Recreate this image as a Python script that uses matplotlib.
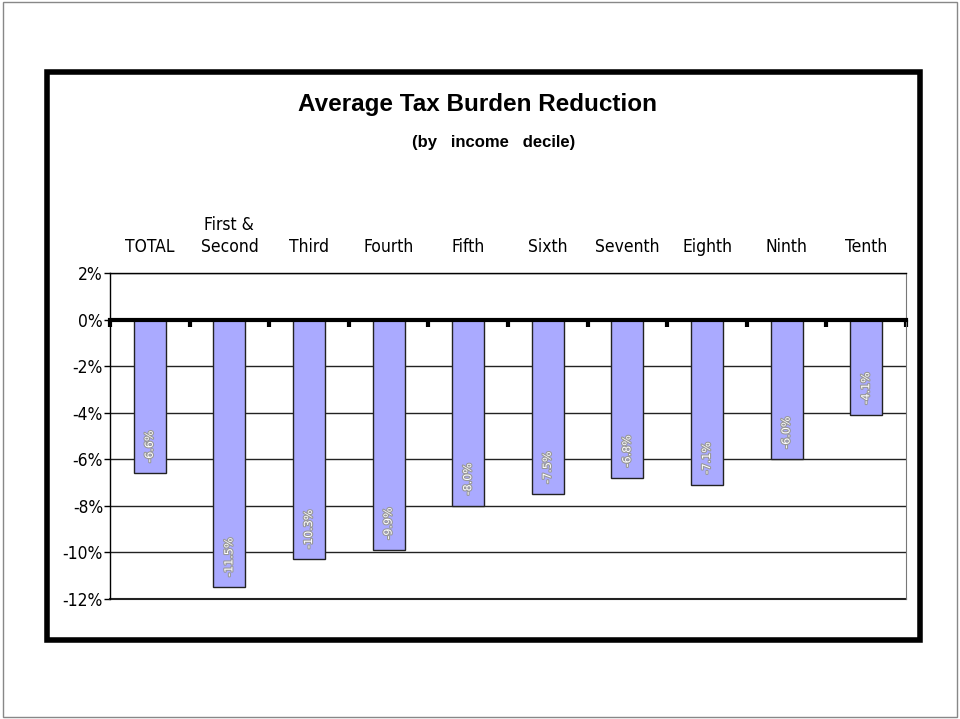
import matplotlib.pyplot as plt
import matplotlib.patheffects as pe
from matplotlib.patches import Rectangle

# deciles and average reduction (%)
categories = ["TOTAL", "First &\nSecond", "Third", "Fourth", "Fifth",
              "Sixth", "Seventh", "Eighth", "Ninth", "Tenth"]
reduction = [-6.6, -11.5, -10.3, -9.9, -8.0, -7.5, -6.8, -7.1, -6.0, -4.1]
yticks = [2, 0, -2, -4, -6, -8, -10, -12]

narrow = ["DejaVu Sans"]

fig = plt.figure(figsize=(9.6, 7.19), dpi=100)

# thin page border and thick chart frame
fig.patches.append(Rectangle((3 / 960, 2 / 719), 954 / 960, 715 / 719,
                             transform=fig.transFigure, fill=False,
                             edgecolor="#888888", linewidth=1))
fig.patches.append(Rectangle((47 / 960, 79 / 719), 873 / 960, 568 / 719,
                             transform=fig.transFigure, fill=False,
                             edgecolor="black", linewidth=4))

ax = fig.add_axes([110 / 960, 120 / 719, 796 / 960, 326 / 719])
x = range(len(categories))
ax.bar(x, reduction, width=0.4, color="#aaaaff", edgecolor="#222222",
       linewidth=1, zorder=3)

ax.set_xlim(-0.5, 9.5)
ax.set_ylim(-12, 2)
ax.set_yticks(yticks)
ax.set_yticklabels([f"{v}%" for v in yticks], fontfamily=narrow,
                   fontsize=12.5, fontstretch="condensed")
ax.tick_params(axis="y", length=4, width=1, pad=1)
ax.grid(axis="y", color="#222222", linewidth=1, zorder=1)
ax.axhline(-12, color="#222222", linewidth=1.5, clip_on=False, zorder=2)

# x axis sits on the zero line with ticks between categories
ax.spines["bottom"].set_position(("data", 0))
ax.spines["bottom"].set_linewidth(3)
ax.spines["bottom"].set_zorder(4)
ax.set_xticks([i - 0.5 for i in range(len(categories) + 1)])
ax.set_xticklabels([])
ax.tick_params(axis="x", direction="out", length=5, width=3)
ax.spines["top"].set_linewidth(1)
ax.spines["left"].set_linewidth(1)
ax.spines["right"].set_color("#777777")

# category names above the plot
for i, name in enumerate(categories):
    ax.text(i, 2.72, name, ha="center", va="bottom", fontsize=12.5,
            fontfamily=narrow, fontstretch="condensed", linespacing=1.3)

# value labels inside the bars
for i, v in enumerate(reduction):
    t = ax.text(i, v + 0.45, f"{v:.1f}%", rotation=90, ha="center",
                va="bottom", fontsize=8, color="white", zorder=5,
                fontfamily=narrow)
    t.set_path_effects([pe.withStroke(linewidth=1.6, foreground="#999999")])

fig.text(478 / 960, 1 - 104 / 719, "Average Tax Burden Reduction",
         ha="center", va="center", fontsize=17.5, fontweight="bold",
         fontfamily="Liberation Sans")
fig.text(494 / 960, 1 - 143 / 719, "(by   income   decile)",
         ha="center", va="center", fontsize=12, fontweight="bold",
         fontfamily="Liberation Sans")

fig.savefig("out.png", dpi=100)
